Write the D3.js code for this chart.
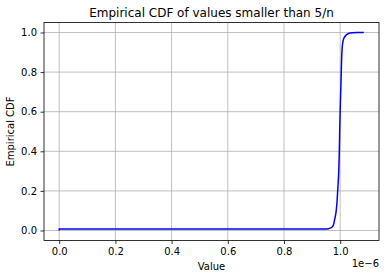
<!DOCTYPE html>
<html>
<head>
	<meta charset="utf-8">
	<style type="text/css">
		body { margin: 0; background: #fff; }
		svg { display: block; font-family: "DejaVu Sans", sans-serif; }
	</style>
</head>
<body>
	<svg class="viz" width="386" height="278"></svg>
	<script src="https://d3js.org/d3.v7.min.js"></script>
	<script type="text/javascript">

		// values (x in units of 1e-6)
		var xValues = [0.0, 0.0, 0.5, 0.95, 0.965, 0.975, 0.981, 0.986, 0.989, 0.992, 0.995, 0.997, 0.999, 1.001, 1.003, 1.004, 1.005, 1.007, 1.010, 1.013, 1.017, 1.022, 1.028, 1.035, 1.045, 1.060, 1.084];
		var cdfValues = [0.0, 0.007, 0.007, 0.008, 0.012, 0.025, 0.06, 0.10, 0.15, 0.22, 0.30, 0.40, 0.55, 0.66, 0.75, 0.81, 0.86, 0.92, 0.955, 0.97, 0.98, 0.988, 0.993, 0.997, 0.999, 1.0, 1.0];
		var xTicks = [0.0, 0.2, 0.4, 0.6, 0.8, 1.0];
		var yTicks = [0.0, 0.2, 0.4, 0.6, 0.8, 1.0];

		var svg = d3.select('.viz');
		var margin = {left: 44, right: 7, top: 22.5, bottom: 37.5};
		var width = 386 - margin.left - margin.right;
		var height = 278 - margin.top - margin.bottom;

		var x = d3.scaleLinear().domain([-0.0542, 1.1382]).range([0, width]);
		var y = d3.scaleLinear().domain([-0.0505, 1.0505]).range([height, 0]);

		var g = svg.append('g').attr('transform', 'translate(' + margin.left + ',' + margin.top + ')');

		// grid
		g.selectAll('.vgrid').data(xTicks).enter().append('line')
			.attr('x1', function(d) { return x(d); })
			.attr('x2', function(d) { return x(d); })
			.attr('y1', 0).attr('y2', height)
			.attr('stroke', '#b0b0b0').attr('stroke-width', 0.8);
		g.selectAll('.hgrid').data(yTicks).enter().append('line')
			.attr('y1', function(d) { return y(d); })
			.attr('y2', function(d) { return y(d); })
			.attr('x1', 0).attr('x2', width)
			.attr('stroke', '#b0b0b0').attr('stroke-width', 0.8);

		// the curve
		var line = d3.line()
			.x(function(d, i) { return x(xValues[i]); })
			.y(function(d) { return y(d); })
			.curve(d3.curveMonotoneX);
		g.append('path').datum(cdfValues)
			.attr('d', line)
			.attr('fill', 'none')
			.attr('stroke', 'blue')
			.attr('stroke-width', 1.5);

		// axes
		var xAxis = d3.axisBottom(x).tickValues(xTicks).tickFormat(d3.format('.1f')).tickSize(3.5).tickPadding(3.5);
		var yAxis = d3.axisLeft(y).tickValues(yTicks).tickFormat(d3.format('.1f')).tickSize(3.5).tickPadding(3.5);
		var gx = g.append('g').attr('transform', 'translate(0,' + height + ')').call(xAxis);
		var gy = g.append('g').call(yAxis);
		[gx, gy].forEach(function(a) {
			a.select('.domain').remove();
			a.selectAll('text').attr('font-size', 10).attr('font-family', '"DejaVu Sans", sans-serif').attr('fill', '#000');
			a.selectAll('line').attr('stroke', '#000').attr('stroke-width', 0.8);
		});

		// frame
		g.append('rect').attr('width', width).attr('height', height)
			.attr('fill', 'none').attr('stroke', '#000').attr('stroke-width', 0.8);

		// labels
		svg.append('text').attr('x', margin.left + width / 2).attr('y', 16.5)
			.attr('text-anchor', 'middle').attr('font-size', 12)
			.text('Empirical CDF of values smaller than 5/n');
		svg.append('text').attr('x', margin.left + width / 2).attr('y', 270)
			.attr('text-anchor', 'middle').attr('font-size', 10)
			.text('Value');
		svg.append('text').attr('x', margin.left + width).attr('y', 267)
			.attr('text-anchor', 'end').attr('font-size', 10)
			.text('1e\u22126');
		svg.append('text')
			.attr('transform', 'translate(14,' + (margin.top + height / 2) + ') rotate(-90)')
			.attr('text-anchor', 'middle').attr('font-size', 10)
			.text('Empirical CDF');

	</script>
</body>
</html>
